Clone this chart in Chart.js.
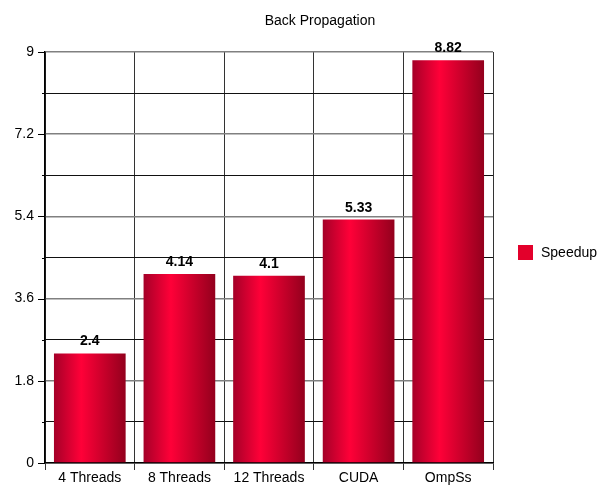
<!DOCTYPE html>
<html>
<head>
<meta charset="utf-8">
<script src="https://cdn.jsdelivr.net/npm/chart.js@4/dist/chart.umd.min.js"></script>
<style>
  html, body { margin: 0; padding: 0; background: #fff; }
  #wrap { width: 602px; height: 487px; }
</style>
</head>
<body>
<div id="wrap"><canvas id="c" width="602" height="487"></canvas></div>
<script>
const categories = ['4 Threads', '8 Threads', '12 Threads', 'CUDA', 'OmpSs'];
const speedup = [2.4, 4.14, 4.1, 5.33, 8.82];
const seriesName = 'Speedup';
const chartTitle = 'Back Propagation';
const yMin = 0, yMax = 9, yStep = 0.9;

const FONT = '"Liberation Sans", Arial, sans-serif';

function barGradient(ctx) {
  const chart = ctx.chart;
  const x = chart.scales && chart.scales.x;
  if (!chart.chartArea || !x || ctx.dataIndex === undefined) return '#e0002a';
  const cx = x.getPixelForValue(ctx.dataIndex);
  const half = (x.width / categories.length) * 0.8 / 2;
  const g = chart.ctx.createLinearGradient(cx - half, 0, cx + half, 0);
  g.addColorStop(0, '#a50028');
  g.addColorStop(0.38, '#ff0038');
  g.addColorStop(1, '#93001d');
  return g;
}

const isMajor = v => Math.abs(v / 1.8 - Math.round(v / 1.8)) < 1e-6;

const decorations = {
  id: 'decorations',
  afterDraw(chart) {
    const c = chart.ctx;
    const a = chart.chartArea;
    const y = chart.scales.y;
    c.save();
    // left tick marks: long for labelled values, short in between
    c.strokeStyle = '#000';
    c.lineWidth = 1;
    y.ticks.forEach(t => {
      const py = Math.round(y.getPixelForValue(t.value)) + 0.5;
      const len = isMajor(t.value) ? 7 : 3;
      c.beginPath();
      c.moveTo(a.left - len, py);
      c.lineTo(a.left, py);
      c.stroke();
    });
    // value labels above bars
    c.fillStyle = '#000';
    c.font = 'bold 14px ' + FONT;
    c.textAlign = 'center';
    c.textBaseline = 'alphabetic';
    chart.getDatasetMeta(0).data.forEach((bar, i) => {
      c.fillText(String(speedup[i]), bar.x, bar.y - 8);
    });
    // title
    c.font = '14px ' + FONT;
    c.fillText(chartTitle, 320, 25);
    // legend
    c.fillStyle = '#e3002b';
    c.fillRect(518, 245, 15, 15);
    c.fillStyle = '#000';
    c.textAlign = 'left';
    c.textBaseline = 'middle';
    c.font = '14px ' + FONT;
    c.fillText(seriesName, 541, 253);
    c.restore();
  }
};

new Chart(document.getElementById('c'), {
  type: 'bar',
  data: {
    labels: categories,
    datasets: [{
      label: seriesName,
      data: speedup,
      backgroundColor: barGradient,
      borderWidth: 0,
      barPercentage: 0.8,
      categoryPercentage: 1.0
    }]
  },
  options: {
    responsive: false,
    animation: false,
    events: [],
    layout: { padding: { top: 52, right: 109, left: 0, bottom: 0 } },
    plugins: {
      legend: { display: false },
      title: { display: false },
      tooltip: { enabled: false }
    },
    scales: {
      x: {
        afterFit(s) { s.height = 24; },
        grid: {
          offset: true,
          color: '#333',
          lineWidth: 1,
          tickLength: 7,
          drawOnChartArea: true
        },
        border: { color: '#000', width: 1.5 },
        ticks: { color: '#000', font: { family: FONT, size: 14 }, padding: 0 }
      },
      y: {
        min: yMin,
        max: yMax,
        afterFit(s) { s.width = 45; },
        grid: {
          drawTicks: false,
          color: c => isMajor(c.tick.value) ? '#808080' : '#111',
          lineWidth: c => isMajor(c.tick.value) ? 1.6 : 1
        },
        border: { color: '#000', width: 1.5 },
        ticks: {
          stepSize: yStep,
          padding: 11,
          color: '#000',
          font: { family: FONT, size: 14 },
          callback(v) {
            if (!isMajor(v)) return '';
            return String(Math.round(v * 10) / 10);
          }
        }
      }
    }
  },
  plugins: [decorations]
});
</script>
</body>
</html>
